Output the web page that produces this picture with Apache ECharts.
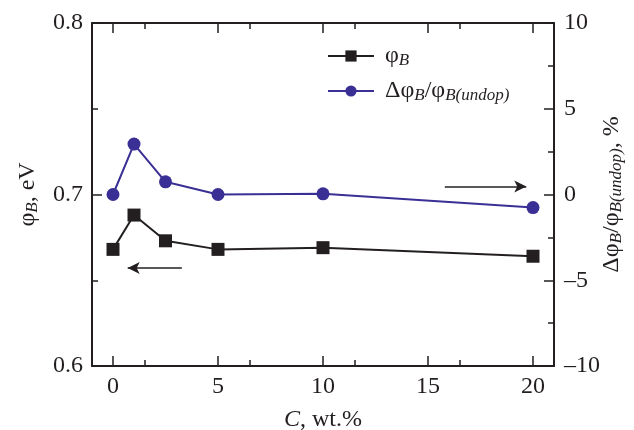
<!DOCTYPE html>
<html><head><meta charset="utf-8">
<script src="https://cdn.jsdelivr.net/npm/echarts@6/dist/echarts.min.js"></script>
<style>html,body{margin:0;padding:0;background:#fff}#c{width:634px;height:430px}</style>
</head><body><div id="c"></div>
<script>
const concentrations = [0, 1, 2.5, 5, 10, 20];
const phiB = [0.668, 0.688, 0.673, 0.668, 0.669, 0.664];
const dPhiRel = [0, 2.94, 0.74, 0, 0.04, -0.76];
const leftArrow = [[3.28, 0.6572], [0.70, 0.6572]];
const rightArrow = [[15.8, 0.46], [19.68, 0.46]];

const F = 'Liberation Serif';
const BLK = '#231f20';
const BLU = '#3a2f94';
const rich = {
  p: {fontFamily: F, fontSize: 24, color: BLK, lineHeight: 28},
  s: {fontFamily: F, fontSize: 17, fontStyle: 'italic', color: BLK, padding: [9, 0, 0, 0], lineHeight: 28},
  i: {fontFamily: F, fontSize: 24, fontStyle: 'italic', color: BLK, lineHeight: 28}
};
const chart = echarts.init(document.getElementById('c'), null, {renderer: 'canvas'});
const axisBase = {
  axisLine: {show: true, onZero: false, lineStyle: {color: BLK, width: 2}},
  axisTick: {show: true, inside: true, length: 10, lineStyle: {color: BLK, width: 1.5}},
  minorTick: {show: true, splitNumber: 2, length: 6, lineStyle: {color: BLK, width: 1.5}},
  splitLine: {show: false},
  axisLabel: {fontFamily: F, fontSize: 24, color: BLK}
};
chart.setOption({
  animation: false,
  grid: {left: 92, right: 80, top: 23, bottom: 64, containLabel: false, outerBoundsMode: 'none'},
  legend: {
    orient: 'vertical', left: 327, top: 43, padding: 0, itemWidth: 46, itemHeight: 14, itemGap: 9,
    data: ['phi', 'dphi'],
    formatter: n => n === 'phi' ? '{p| φ}{s|B}' : '{p| Δφ}{s|B}{p|/φ}{s|B(undop)}',
    textStyle: {rich: rich}
  },
  xAxis: [
    Object.assign({}, axisBase, {
      type: 'value', min: -1, max: 21, interval: 5, position: 'bottom',
      axisLabel: Object.assign({}, axisBase.axisLabel, {margin: 9, customValues: [0, 5, 10, 15, 20]}),
      axisTick: Object.assign({}, axisBase.axisTick, {customValues: [0, 5, 10, 15, 20]}),
      name: '{i|C}{p|, wt.%}', nameLocation: 'middle', nameGap: 40, nameMoveOverlap: false,
      nameTextStyle: {rich: rich}
    }),
    Object.assign({}, axisBase, {
      type: 'value', min: -1, max: 21, interval: 5, position: 'top',
      axisLabel: {show: false},
      axisTick: Object.assign({}, axisBase.axisTick, {customValues: [0, 5, 10, 15, 20]})
    })
  ],
  yAxis: [
    Object.assign({}, axisBase, {
      type: 'value', min: 0.6, max: 0.8, interval: 0.1, position: 'left',
      axisLabel: Object.assign({}, axisBase.axisLabel, {margin: 9, formatter: v => v.toFixed(1)}),
      name: '{p|φ}{s|B}{p|, eV}', nameLocation: 'middle', nameGap: 50, nameRotate: 90, nameMoveOverlap: false,
      nameTextStyle: {rich: rich}
    }),
    Object.assign({}, axisBase, {
      type: 'value', min: -10, max: 10, interval: 5, position: 'right',
      axisLabel: Object.assign({}, axisBase.axisLabel, {margin: 10, formatter: v => v < 0 ? '\u2013' + Math.abs(v) : String(v)}),
      name: '{p|Δφ}{s|B}{p|/φ}{s|B(undop)}{p|, %}', nameLocation: 'middle', nameGap: 44, nameRotate: 90, nameMoveOverlap: false,
      nameTextStyle: {rich: rich}
    })
  ],
  series: [
    {
      name: 'phi', type: 'line', xAxisIndex: 0, yAxisIndex: 0,
      data: concentrations.map((c, i) => [c, phiB[i]]),
      symbol: 'rect', symbolSize: 13, showAllSymbol: true,
      lineStyle: {color: BLK, width: 2}, itemStyle: {color: BLK},
      markLine: {
        silent: true, animation: false, label: {show: false},
        symbol: ['none', 'arrow'], symbolSize: [9, 12],
        lineStyle: {color: BLK, width: 1.5, type: 'solid'},
        data: [[{coord: leftArrow[0]}, {coord: leftArrow[1]}]]
      }
    },
    {
      name: 'dphi', type: 'line', xAxisIndex: 0, yAxisIndex: 1,
      data: concentrations.map((c, i) => [c, dPhiRel[i]]),
      symbol: 'circle', symbolSize: 13, showAllSymbol: true,
      lineStyle: {color: BLU, width: 2}, itemStyle: {color: BLU},
      markLine: {
        silent: true, animation: false, label: {show: false},
        symbol: ['none', 'arrow'], symbolSize: [9, 12],
        lineStyle: {color: BLK, width: 1.5, type: 'solid'},
        data: [[{coord: rightArrow[0]}, {coord: rightArrow[1]}]]
      }
    }
  ]
});
</script></body></html>
